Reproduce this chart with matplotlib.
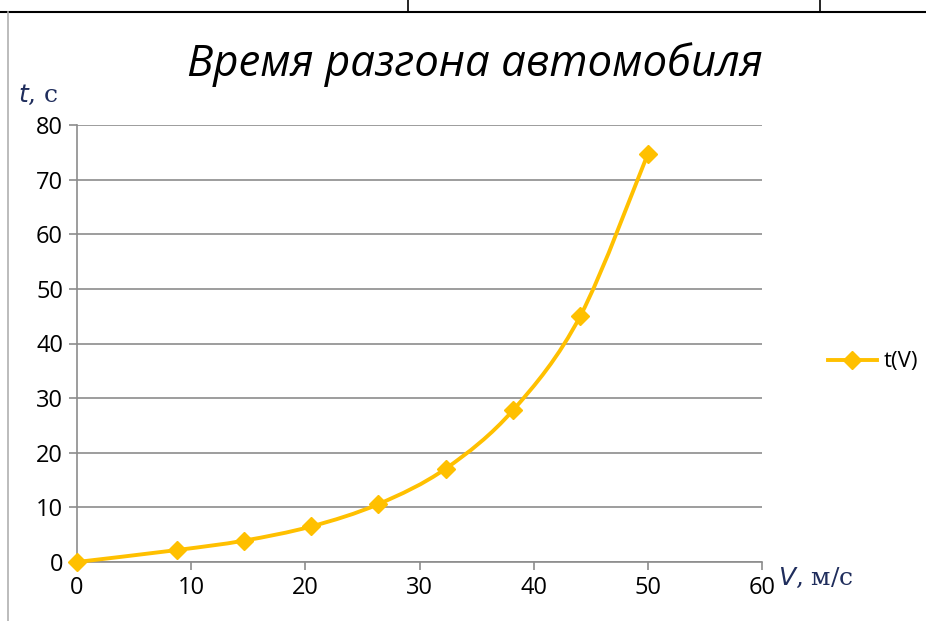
import numpy as np
import matplotlib.pyplot as plt
from matplotlib.path import Path
from matplotlib.patches import PathPatch
from matplotlib.lines import Line2D

# data
v = [0, 8.8, 14.6, 20.5, 26.4, 32.3, 38.2, 44.1, 50.0]
t = [0, 2.2, 3.9, 6.5, 10.6, 17.1, 27.8, 45.1, 74.7]
x_ticks = [0, 10, 20, 30, 40, 50, 60]
y_ticks = [0, 10, 20, 30, 40, 50, 60, 70, 80]
color = '#FFC000'

fig = plt.figure(figsize=(9.26, 6.21), dpi=100)
W, H = 926, 621
ax = fig.add_axes([77 / W, 1 - 562 / H, (762 - 77) / W, (562 - 125) / H])

# smoothed line like Excel (Catmull-Rom -> Bezier)
pts = np.column_stack([v, t])
verts = [pts[0]]
codes = [Path.MOVETO]
n = len(pts)
for i in range(n - 1):
    p0 = pts[max(i - 1, 0)]
    p1 = pts[i]
    p2 = pts[i + 1]
    p3 = pts[min(i + 2, n - 1)]
    c1 = p1 + (p2 - p0) / 6
    c2 = p2 - (p3 - p1) / 6
    verts += [c1, c2, p2]
    codes += [Path.CURVE4] * 3
ax.add_patch(PathPatch(Path(verts, codes), fill=False, edgecolor=color,
                       lw=2.8, capstyle='round', zorder=3, clip_on=False))
ax.plot(v, t, ls='none', marker='D', ms=9, color=color, zorder=4,
        clip_on=False)

ax.set_xlim(0, 60)
ax.set_ylim(0, 80)
ax.set_xticks(x_ticks)
ax.set_yticks(y_ticks)
ax.grid(axis='y', color='#8c8c8c', lw=1.2)
ax.set_axisbelow(True)
for s in ['top', 'right']:
    ax.spines[s].set_visible(False)
for s in ['left', 'bottom']:
    ax.spines[s].set_color('#8c8c8c')
    ax.spines[s].set_linewidth(1.2)
ax.tick_params(colors='#8c8c8c', labelcolor='black', length=6, width=1.2,
               labelsize=17, pad=4)
for lab in ax.get_xticklabels() + ax.get_yticklabels():
    lab.set_family('Open Sans')

fig.text(475 / W, 1 - 65 / H, 'Время разгона автомобиля', ha='center',
         va='center', fontsize=31.5, style='italic', family='Open Sans')
fig.text(18 / W, 1 - 95 / H, '$t$, с', fontsize=18, family='DejaVu Serif',
         color='#1f2d5c', va='center')
fig.text(778 / W, 1 - 578 / H, '$V$, м/с', fontsize=18, family='DejaVu Serif',
         color='#1f2d5c', va='center')

handle = Line2D([], [], color=color, lw=2.8, marker='D', ms=9)
fig.legend([handle], ['t(V)'], loc='center left',
           bbox_to_anchor=(808 / W, 1 - 362 / H), frameon=False,
           prop={'family': 'Open Sans', 'size': 16}, handlelength=2.2,
           handletextpad=0.3)

# frame lines from the surrounding document
fig.add_artist(Line2D([0, 1], [1 - 12 / H] * 2, color='black', lw=1.5))
for xp in [408, 820]:
    fig.add_artist(Line2D([xp / W] * 2, [1, 1 - 12 / H], color='black', lw=1.2))
fig.add_artist(Line2D([8 / W] * 2, [1 - 12 / H, 0], color='#b0b0b0', lw=1.2))

fig.savefig('out.png', dpi=100)
